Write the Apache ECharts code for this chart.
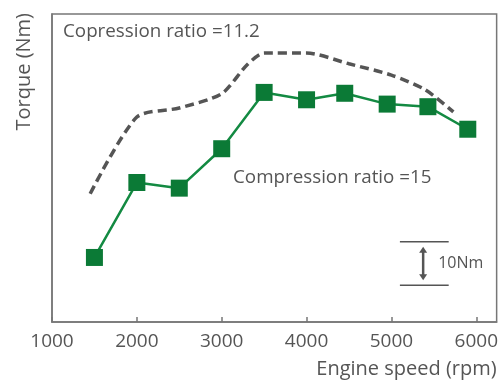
<!DOCTYPE html>
<html>
<head>
<meta charset="utf-8">
<script src="https://cdn.jsdelivr.net/npm/echarts@6/dist/echarts.min.js"></script>
<style>html,body{margin:0;padding:0;background:#fff}#c{width:501px;height:390px}</style>
</head>
<body>
<div id="c"></div>
<script>
// Engine speed (rpm) and torque (Nm, relative scale)
var cr15Speed = [1500, 2000, 2500, 3000, 3500, 4000, 4450, 4950, 5430, 5900];
var cr15Torque = [74.9, 92.2, 90.9, 100.0, 113.0, 111.3, 112.8, 110.3, 109.7, 104.5];
var cr112Speed = [1450, 2000, 2500, 3000, 3300, 3500, 4000, 4500, 5000, 5400, 5730];
var cr112Torque = [89.6, 107.3, 109.4, 112.7, 119.4, 122.1, 122.1, 119.6, 117.0, 113.6, 108.5];
var xTicks = [1000, 2000, 3000, 4000, 5000, 6000];
// scale bar: [xStart, xEnd, xArrow, yLow, yHigh]
var scaleBar = [5100, 5675, 5374, 68.5, 78.5];
var scaleLabel = '10Nm';

var grey = '#555';
var chart = echarts.init(document.getElementById('c'));
chart.setOption({
  animation: false,
  grid: {left: 52, right: 1, top: 14, bottom: 68, show: true, borderColor: '#777', borderWidth: 1.5},
  xAxis: {
    type: 'value', min: 1000, max: 6240, interval: 1000,
    axisLine: {show: true, lineStyle: {color: '#777', width: 1.5}},
    axisTick: {show: true, inside: true, length: 5, lineStyle: {color: '#777', width: 1.5}},
    axisLabel: {color: grey, fontSize: 19, fontFamily: 'Open Sans', margin: 10, showMaxLabel: false,
      formatter: function (v) { return xTicks.indexOf(v) >= 0 ? String(v) : ''; }},
    splitLine: {show: false},
    name: 'Engine speed (rpm)', nameLocation: 'end', nameGap: 0,
    nameTextStyle: {color: grey, fontSize: 20, fontFamily: 'Open Sans', align: 'right', verticalAlign: 'top', padding: [37, 0, 0, 0]}
  },
  yAxis: {
    type: 'value', min: 60, max: 131.1,
    axisLine: {show: true, lineStyle: {color: '#777', width: 1.5}},
    axisTick: {show: false}, axisLabel: {show: false}, splitLine: {show: false}
  },
  graphic: [
    {type: 'text', left: 14, top: 13, rotation: Math.PI / 2,
      style: {text: 'Torque (Nm)', fill: grey, font: '20px "Open Sans"'}},
    {type: 'text', x: 63, y: 32, style: {text: 'Copression ratio =11.2', fill: grey, font: '18.8px "Open Sans"', verticalAlign: 'middle'}},
    {type: 'text', x: 233, y: 178, style: {text: 'Compression ratio =15', fill: grey, font: '18.8px "Open Sans"', verticalAlign: 'middle'}}
  ],
  series: [
    {
      type: 'line', data: cr112Speed.map(function (s, i) { return [s, cr112Torque[i]]; }),
      smooth: 0.25, showSymbol: false, symbol: 'none',
      lineStyle: {color: '#555', width: 3.5, type: [9, 5]}, z: 2
    },
    {
      type: 'line', data: cr15Speed.map(function (s, i) { return [s, cr15Torque[i]]; }),
      symbol: 'rect', symbolSize: 17,
      itemStyle: {color: '#0b7a36'},
      lineStyle: {color: '#138a42', width: 2.5}, z: 3
    },
    {
      type: 'custom', data: [scaleBar],
      renderItem: function (params, api) {
        var x1 = api.value(0), x2 = api.value(1), xa = api.value(2), yl = api.value(3), yh = api.value(4);
        var pL1 = api.coord([x1, yl]), pL2 = api.coord([x2, yl]);
        var pH1 = api.coord([x1, yh]), pH2 = api.coord([x2, yh]);
        var pa = api.coord([xa, yl]), pb = api.coord([xa, yh]);
        var c = '#555';
        var ah = 6, aw = 4;
        var top = pb[1] + 5, bot = pa[1] - 5;
        return {type: 'group', children: [
          {type: 'line', shape: {x1: pL1[0], y1: pL1[1], x2: pL2[0], y2: pL2[1]}, style: {stroke: c, lineWidth: 1.5}},
          {type: 'line', shape: {x1: pH1[0], y1: pH1[1], x2: pH2[0], y2: pH2[1]}, style: {stroke: c, lineWidth: 1.5}},
          {type: 'line', shape: {x1: pa[0], y1: top + ah - 1, x2: pa[0], y2: bot - ah + 1}, style: {stroke: c, lineWidth: 2.5}},
          {type: 'polygon', shape: {points: [[pa[0], top], [pa[0] - aw, top + ah], [pa[0] + aw, top + ah]]}, style: {fill: c}},
          {type: 'polygon', shape: {points: [[pa[0], bot], [pa[0] - aw, bot - ah], [pa[0] + aw, bot - ah]]}, style: {fill: c}},
          {type: 'text', x: pa[0] + 15, y: (pa[1] + pb[1]) / 2, style: {text: scaleLabel, fill: c, font: '16px "Open Sans"', verticalAlign: 'middle'}}
        ]};
      }
    }
  ]
});
</script>
</body>
</html>
